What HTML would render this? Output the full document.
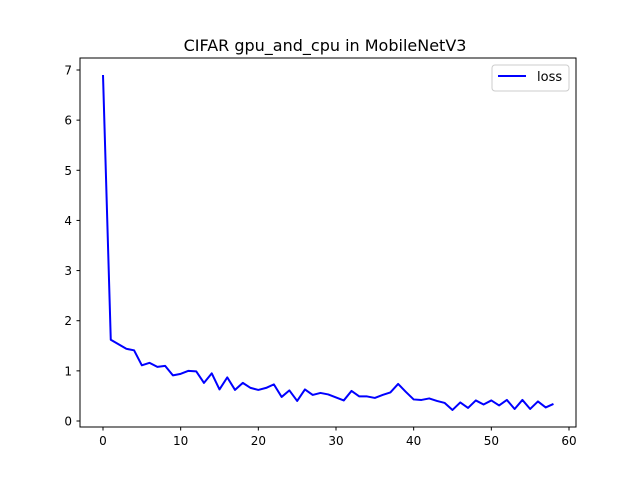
<!DOCTYPE html>
<html><head><meta charset="utf-8"><style>
body{margin:0;background:#fff;font-family:"Liberation Sans","DejaVu Sans",sans-serif}
svg text{font-family:"DejaVu Sans","Liberation Sans",sans-serif}
</style></head><body>
<svg id="chart" width="640" height="480" xmlns="http://www.w3.org/2000/svg">
<rect width="640" height="480" fill="#fff"/>
<text x="325" y="51" font-size="16" text-anchor="middle">CIFAR gpu_and_cpu in MobileNetV3</text>
<g id="axes"></g>
<rect x="80" y="58" width="496" height="369" fill="none" stroke="#000" stroke-width="1"/>
<g>
<rect x="492" y="65" width="77" height="26" rx="3" fill="#fff" stroke="#ccc"/>
<line x1="498" y1="76" x2="526" y2="76" stroke="#0000ff" stroke-width="2"/>
<text x="537" y="81" font-size="13">loss</text>
</g>
</svg>
<script>
const xTicks=[0,10,20,30,40,50,60];
const yTicks=[0,1,2,3,4,5,6,7];
const lossValues=[6.9,1.62,1.53,1.44,1.41,1.11,1.16,1.08,1.10,0.91,0.94,1.00,0.99,0.76,0.95,0.63,0.87,0.62,0.76,0.66,0.62,0.66,0.73,0.48,0.61,0.40,0.63,0.52,0.56,0.53,0.47,0.41,0.60,0.49,0.49,0.46,0.52,0.57,0.74,0.58,0.43,0.42,0.45,0.40,0.36,0.22,0.37,0.26,0.41,0.33,0.41,0.31,0.42,0.24,0.42,0.24,0.39,0.27,0.34];
const NS="http://www.w3.org/2000/svg";
const xs=v=>103+v*(569-103)/60;
const ys=v=>421-v*(421-70)/7;
const g=document.getElementById('axes');
function mk(t,a){const e=document.createElementNS(NS,t);for(const k in a)e.setAttribute(k,a[k]);return e;}
xTicks.forEach(t=>{
 const l=mk('line',{x1:xs(t),x2:xs(t),y1:427,y2:430.5,stroke:'#000'});
 
 
 g.appendChild(l);
 const tx=mk('text',{x:xs(t),y:445,'font-size':12,'text-anchor':'middle'});
 
 
 tx.textContent=t;g.appendChild(tx);
});
yTicks.forEach(t=>{
 const l=mk('line',{x1:76.5,x2:80,y1:ys(t),y2:ys(t),stroke:'#000'});
 
 
 g.appendChild(l);
 const tx=mk('text',{x:72,y:ys(t)+4.5,'font-size':12,'text-anchor':'end'});
 
 
 tx.textContent=t;g.appendChild(tx);
});
const p=mk('polyline',{points:lossValues.map((v,i)=>xs(i)+','+ys(v)).join(' '),fill:'none',stroke:'#0000ff','stroke-width':2,'stroke-linejoin':'round'});


g.appendChild(p);
</script>
</body></html>
